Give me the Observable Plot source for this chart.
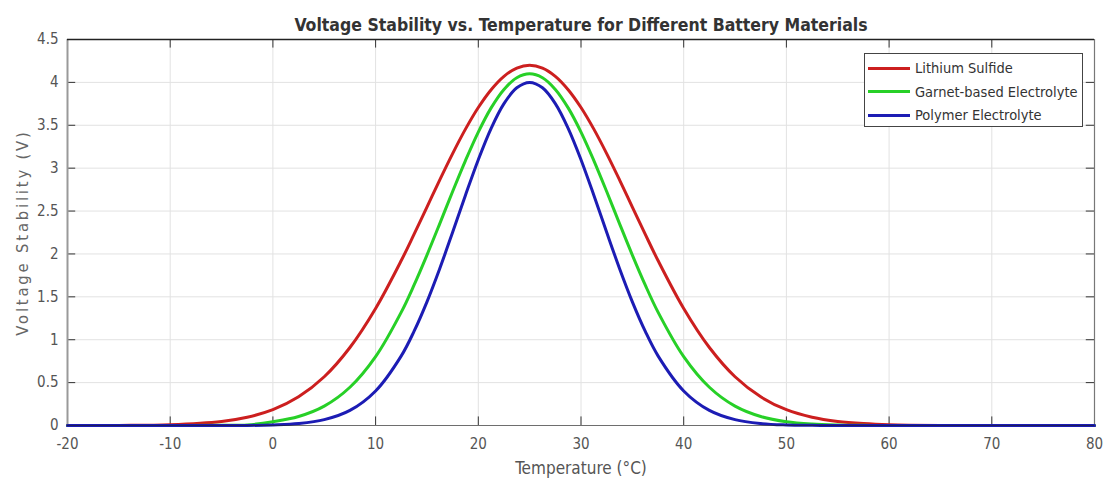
<!DOCTYPE html>
<html>
<head>
<meta charset="utf-8">
<script src="https://cdn.jsdelivr.net/npm/d3@7"></script>
<script src="https://cdn.jsdelivr.net/npm/@observablehq/plot@0.6"></script>
<style>
  html, body { margin: 0; padding: 0; background: #fff; }
  #wrap { position: relative; width: 1105px; height: 485px; }
  .ylab text { letter-spacing: 2.8px; }
  #legend {
    position: absolute; left: 864px; top: 53px; width: 217px; height: 72px;
    border: 1px solid #444; background: #fff; box-sizing: content-box;
    font-family: "Liberation Sans Narrow", "DejaVu Sans Condensed", Roboto, sans-serif;
    font-size: 14.5px; color: #333;
  }
  .row { position: absolute; left: 3px; height: 20px; display: flex; align-items: center; }
  .sw { width: 42px; height: 3px; margin-right: 5px; }
</style>
</head>
<body>
<div id="wrap"></div>
<script>
// Temperature samples (°C)
const temps = [-20,-15,-10,-5,-2.5,0,2.5,5,7.5,10,12.5,13.75,15,16.25,17.5,18.75,20,21.25,22.5,23.75,25,26.25,27.5,28.75,30,31.25,32.5,33.75,35,36.25,37.5,40,42.5,45,47.5,50,52.5,55,57.5,60,65,70,75,80];
// Series values (V)
const lithiumSulfide = [0,0.001,0.009,0.047,0.096,0.184,0.334,0.568,0.909,1.364,1.923,2.231,2.547,2.864,3.170,3.455,3.707,3.915,4.071,4.167,4.2,4.167,4.071,3.915,3.707,3.455,3.170,2.864,2.547,2.231,1.923,1.364,0.909,0.568,0.334,0.184,0.096,0.047,0.022,0.009,0.001,0,0,0];
const garnetElectrolyte = [0,0,0,0.002,0.006,0.044,0.105,0.226,0.446,0.803,1.322,1.639,1.987,2.354,2.728,3.089,3.421,3.703,3.918,4.054,4.1,4.054,3.918,3.703,3.421,3.089,2.728,2.354,1.987,1.639,1.322,0.803,0.446,0.226,0.105,0.044,0.017,0.006,0.002,0,0,0,0,0];
const polymerElectrolyte = [0,0,0,0,0,0.007,0.023,0.068,0.176,0.403,0.812,1.100,1.442,1.831,2.253,2.685,3.099,3.465,3.753,3.937,4.0,3.937,3.753,3.465,3.099,2.685,2.253,1.831,1.442,1.100,0.812,0.403,0.176,0.068,0.023,0.007,0.002,0,0,0,0,0,0,0];
const seriesNames = ["Lithium Sulfide", "Garnet-based Electrolyte", "Polymer Electrolyte"];
const seriesColors = ["#cc1f1f", "#27d027", "#1c1cb4"];
const xTicks = [-20,-10,0,10,20,30,40,50,60,70,80];
const yTicks = [0,0.5,1,1.5,2,2.5,3,3.5,4,4.5];

const seriesValues = [lithiumSulfide, garnetElectrolyte, polymerElectrolyte];
const rows = [];
seriesValues.forEach((vals, i) => temps.forEach((t, j) => rows.push({series: seriesNames[i], t, v: vals[j]})));

const font = '"Liberation Sans Narrow", "DejaVu Sans Condensed", Roboto, sans-serif';

const chart = Plot.plot({
  width: 1105, height: 485,
  marginLeft: 67, marginRight: 11, marginTop: 39, marginBottom: 60,
  style: {fontFamily: font, fontSize: "15px", color: "#555", background: "#fff"},
  x: {domain: [-20, 80], ticks: xTicks, label: null},
  y: {domain: [0, 4.5], ticks: yTicks, label: null},
  color: {domain: seriesNames, range: seriesColors},
  marks: [
    Plot.gridX(xTicks, {stroke: "#e2e2e2", strokeOpacity: 1}),
    Plot.gridY(yTicks, {stroke: "#e2e2e2", strokeOpacity: 1}),
    // inward ticks
    Plot.ruleX(xTicks, {x: d => d, y1: 0, y2: 0.1, stroke: "#333"}),
    Plot.ruleX(xTicks, {x: d => d, y1: 4.4, y2: 4.5, stroke: "#333"}),
    Plot.ruleY(yTicks, {y: d => d, x1: -20, x2: -19.2, stroke: "#333"}),
    Plot.ruleY(yTicks, {y: d => d, x1: 79.2, x2: 80, stroke: "#333"}),
    Plot.axisX(xTicks, {tickSize: 0, tickPadding: 13, tickFormat: d => String(d), fill: "#555", fontSize: 15, label: null}),
    Plot.axisY(yTicks, {tickSize: 0, tickPadding: 9, tickFormat: d => String(d), fill: "#555", fontSize: 15, label: null}),
    Plot.ruleX([-20], {stroke: "#999", strokeWidth: 2}),
    Plot.ruleX([80], {stroke: "#777", strokeWidth: 1.2}),
    Plot.ruleY([4.5], {stroke: "#222", strokeWidth: 1.5}),
    Plot.lineY(rows, {x: "t", y: "v", z: "series", stroke: "series", strokeWidth: 3, curve: "catmull-rom"}),
    Plot.ruleY([0], {stroke: "#222", strokeWidth: 1, strokeOpacity: 0.6}),
    Plot.text(["Voltage Stability vs. Temperature for Different Battery Materials"], {frameAnchor: "top", dy: -21, fontSize: 17.5, fontWeight: "bold", fill: "#333"}),
    Plot.text(["Temperature (°C)"], {frameAnchor: "bottom", dy: 48, fontSize: 17, fill: "#555"}),
    Plot.text(["Voltage Stability (V)"], {frameAnchor: "left", textAnchor: "middle", dx: -45, rotate: -90, fontSize: 16.5, fill: "#666", className: "ylab"})
  ]
});
const wrap = document.getElementById("wrap");
wrap.appendChild(chart);

const legend = document.createElement("div");
legend.id = "legend";
seriesNames.forEach((name, i) => {
  const r = document.createElement("div");
  r.className = "row";
  r.style.top = (4 + i * 23.5) + "px";
  const sw = document.createElement("span");
  sw.className = "sw";
  sw.style.background = seriesColors[i];
  const tx = document.createElement("span");
  tx.textContent = name;
  r.appendChild(sw); r.appendChild(tx);
  legend.appendChild(r);
});
wrap.appendChild(legend);
</script>
</body>
</html>
